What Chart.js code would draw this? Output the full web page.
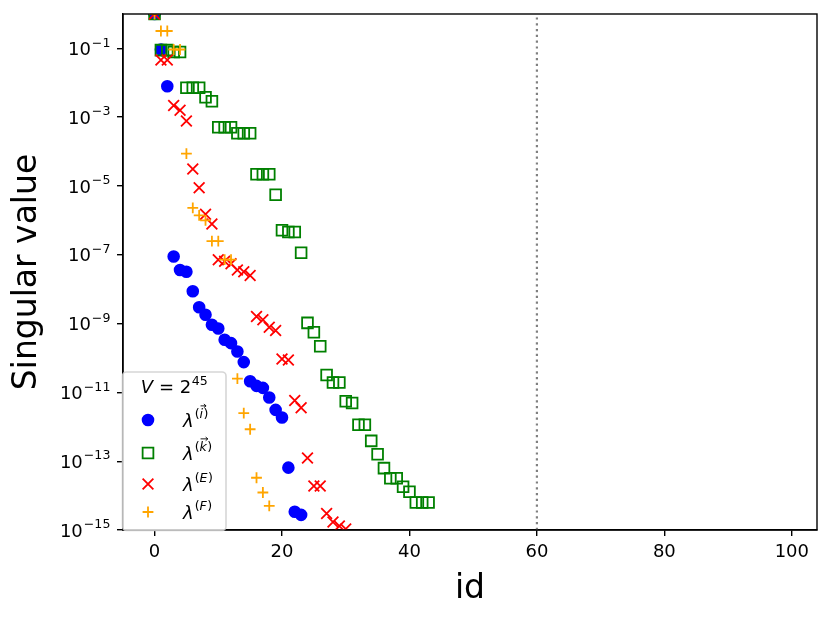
<!DOCTYPE html>
<html>
<head>
<meta charset="utf-8">
<title>Singular values</title>
<script src="https://cdn.jsdelivr.net/npm/chart.js@4.4.1/dist/chart.umd.min.js"></script>
<style>
  html, body { margin: 0; padding: 0; background: #fff; }
</style>
</head>
<body>
<canvas id="chart" width="830" height="618"></canvas>
<script>
// singular values, index in the array = id
const lambdaI = [1, 9.3e-2, 7.9e-3, 8.9e-8, 3.6e-8, 3.2e-8, 8.7e-9, 3.0e-9, 1.8e-9, 9.3e-10,
  7.2e-10, 3.4e-10, 2.7e-10, 1.55e-10, 7.6e-11, 2.1e-11, 1.55e-11, 1.35e-11, 7.1e-12, 3.1e-12,
  1.86e-12, 6.5e-14, 3.4e-15, 2.75e-15];
const lambdaK = [1, 8.9e-2, 8.9e-2, 7.9e-2, 7.9e-2, 7.2e-3, 7.2e-3, 7.2e-3, 3.8e-3, 2.9e-3,
  5.1e-4, 5.1e-4, 5.1e-4, 3.4e-4, 3.4e-4, 3.4e-4, 2.2e-5, 2.2e-5, 2.2e-5, 5.6e-6,
  5.2e-7, 4.6e-7, 4.6e-7, 1.15e-7, 1.05e-9, 5.6e-10, 2.2e-10, 3.2e-11, 1.95e-11, 1.95e-11,
  5.5e-12, 4.9e-12, 1.15e-12, 1.15e-12, 3.9e-13, 1.6e-13, 6.3e-14, 3.2e-14, 3.2e-14, 1.8e-14,
  1.3e-14, 6.3e-15, 6.3e-15, 6.3e-15];
const lambdaE = [1, 4.6e-2, 4.6e-2, 2.2e-3, 1.6e-3, 7.8e-4, 3.1e-5, 8.9e-6, 1.5e-6, 7.9e-7,
  7.2e-8, 6.5e-8, 5.5e-8, 3.6e-8, 3.2e-8, 2.5e-8, 1.6e-9, 1.3e-9, 7.8e-10, 6.3e-10,
  9.3e-11, 8.7e-11, 5.8e-12, 3.6e-12, 1.23e-13, 1.9e-14, 1.9e-14, 3.0e-15, 1.7e-15, 1.3e-15,
  1.07e-15];
const lambdaF = [1, 3.2e-1, 3.2e-1, 9.3e-2, 9.3e-2, 8.7e-5, 2.3e-6, 1.4e-6, 1.0e-6, 2.5e-7,
  2.5e-7, 7.2e-8, 7.2e-8, 2.5e-11, 2.5e-12, 8.5e-13, 3.3e-14, 1.23e-14, 5.0e-15];

const cutoffId = 60;
const xTicks = [0, 20, 40, 60, 80, 100];
const yTickExponents = [-1, -3, -5, -7, -9, -11, -13, -15];
const xRange = [-4.95, 103.95];
const yRange = [1e-15, 1];

const FONT = "'DejaVu Sans', sans-serif";

const toPoints = vals => vals.map((v, i) => ({ x: i, y: v }));

// series look (matplotlib-ish markers)
const seriesStyles = [
  { data: lambdaI, style: 'circle', radius: 5.4, color: '#0000ff', fill: true, sup: 'i', vec: true },
  { data: lambdaK, style: 'rect', radius: 7.6, color: '#008000', fill: false, sup: 'k', vec: true },
  { data: lambdaE, style: 'crossRot', radius: 7.6, color: '#ff0000', fill: false, sup: 'E', vec: false },
  { data: lambdaF, style: 'cross', radius: 5.4, color: '#ffa500', fill: false, sup: 'F', vec: false }
];

// draw a sequence of text runs (base + superscripts) starting at x
function drawRuns(ctx, runs, x, y, align) {
  let total = 0;
  runs.forEach(r => {
    ctx.font = (r.italic ? 'italic ' : '') + r.size + 'px ' + FONT;
    r.w = ctx.measureText(r.text).width;
    total += r.w + (r.gap || 0);
  });
  let cx = align === 'right' ? x - total : align === 'center' ? x - total / 2 : x;
  runs.forEach(r => {
    cx += r.gap || 0;
    ctx.font = (r.italic ? 'italic ' : '') + r.size + 'px ' + FONT;
    ctx.fillText(r.text, cx, y + (r.dy || 0));
    r.x = cx;
    cx += r.w;
  });
  return runs;
}

function drawYTickLabels(chart) {
  const { ctx, chartArea } = chart;
  const yScale = chart.scales.y;
  ctx.save();
  ctx.fillStyle = '#000';
  ctx.textBaseline = 'alphabetic';
  ctx.textAlign = 'left';
  yTickExponents.forEach(e => {
    const py = yScale.getPixelForValue(Math.pow(10, e));
    drawRuns(ctx, [
      { text: '10', size: 18 },
      { text: '\u2212' + Math.abs(e), size: 12.6, dy: -8.3, gap: 1 }
    ], chartArea.left - 12.6, py + 6.5, 'right');
  });
  ctx.restore();
}

function drawLegend(chart) {
  const { ctx } = chart;
  const box = { x: 122.5, y: 372, w: 103.5, h: 158.5, r: 4 };
  ctx.save();
  ctx.beginPath();
  ctx.roundRect(box.x, box.y, box.w, box.h, box.r);
  ctx.fillStyle = 'rgba(255,255,255,0.8)';
  ctx.fill();
  ctx.strokeStyle = 'rgba(204,204,204,0.8)';
  ctx.lineWidth = 1.6;
  ctx.stroke();

  ctx.fillStyle = '#000';
  ctx.textBaseline = 'alphabetic';
  ctx.textAlign = 'left';
  drawRuns(ctx, [
    { text: 'V', size: 18, italic: true },
    { text: ' = ', size: 18 },
    { text: '2', size: 18 },
    { text: '45', size: 12.6, dy: -8.3, gap: 0.5 }
  ], box.x + box.w / 2, 393, 'center');

  const rowY = [420, 453, 484, 512];
  seriesStyles.forEach((s, i) => {
    const y = rowY[i];
    ctx.save();
    ctx.strokeStyle = s.color;
    ctx.fillStyle = s.fill ? s.color : 'rgba(0,0,0,0)';
    ctx.lineWidth = 1.8;
    Chart.helpers.drawPoint(ctx, { pointStyle: s.style, radius: s.radius, borderWidth: 1.8, rotation: 0 }, 148, y);
    ctx.restore();

    ctx.fillStyle = '#000';
    const runs = drawRuns(ctx, [
      { text: '\u03bb', size: 18, italic: true },
      { text: '(', size: 12.6, dy: -8.3, gap: 1 },
      { text: s.sup, size: 12.6, dy: -8.3, italic: true },
      { text: ')', size: 12.6, dy: -8.3, gap: 0.5 }
    ], 183, y + 6.5, 'left');
    if (s.vec) {
      const letter = runs[2];
      const ay = y + 6.5 - 8.3 - 12.6 * 0.78 - 2.5;
      const ax = letter.x + 1;
      const len = Math.max(letter.w, 5.5);
      ctx.strokeStyle = '#000';
      ctx.lineWidth = 0.9;
      ctx.beginPath();
      ctx.moveTo(ax, ay);
      ctx.lineTo(ax + len, ay);
      ctx.moveTo(ax + len - 2.2, ay - 1.8);
      ctx.lineTo(ax + len, ay);
      ctx.lineTo(ax + len - 2.2, ay + 1.8);
      ctx.stroke();
    }
  });
  ctx.restore();
}

const framePlugin = {
  id: 'frame',
  afterDatasetsDraw(chart) {
    const { ctx, chartArea: a } = chart;
    ctx.save();
    ctx.strokeStyle = '#000';
    ctx.lineWidth = 1.4;
    ctx.strokeRect(a.left, a.top, a.right - a.left, a.bottom - a.top);
    ctx.restore();
  },
  afterDraw(chart) {
    drawYTickLabels(chart);
    drawLegend(chart);
  }
};

const datasets = seriesStyles.map((s, i) => ({
  label: 'lambda_' + s.sup,
  data: toPoints(s.data),
  pointStyle: s.style,
  pointRadius: s.radius,
  pointHoverRadius: s.radius,
  pointBorderWidth: 1.8,
  pointBackgroundColor: s.fill ? s.color : 'rgba(0,0,0,0)',
  pointBorderColor: s.color,
  order: 4 - i,
  clip: 0
}));

datasets.push({
  type: 'line',
  label: 'cutoff',
  data: [{ x: cutoffId, y: yRange[0] }, { x: cutoffId, y: yRange[1] }],
  borderColor: '#808080',
  borderWidth: 2.2,
  borderDash: [2.2, 3.6],
  pointRadius: 0,
  order: 5
});

const axisGrid = { drawOnChartArea: false, drawTicks: true, tickLength: 6, color: '#000', lineWidth: 1.4 };

new Chart(document.getElementById('chart').getContext('2d'), {
  type: 'scatter',
  data: { datasets: datasets },
  options: {
    responsive: false,
    animation: false,
    devicePixelRatio: 1,
    layout: { padding: { left: 0, right: 13, top: 14, bottom: 0 } },
    plugins: { legend: { display: false }, tooltip: { enabled: false } },
    scales: {
      x: {
        type: 'linear',
        min: xRange[0],
        max: xRange[1],
        afterBuildTicks: scale => { scale.ticks = xTicks.map(v => ({ value: v })); },
        afterFit: scale => { scale.height = 88; },
        ticks: {
          font: { family: FONT, size: 18 },
          color: '#000',
          padding: 6,
          maxRotation: 0,
          autoSkip: false,
          callback: v => String(v)
        },
        grid: axisGrid,
        border: { display: true, color: '#000', width: 1.4 },
        title: { display: true, text: 'id', color: '#000', font: { family: FONT, size: 33 }, padding: { top: 0, bottom: 9 } }
      },
      y: {
        type: 'logarithmic',
        min: yRange[0],
        max: yRange[1],
        afterBuildTicks: scale => { scale.ticks = yTickExponents.map(e => ({ value: Math.pow(10, e) })); },
        afterFit: scale => { scale.width = 123; },
        ticks: { display: false },
        grid: axisGrid,
        border: { display: true, color: '#000', width: 1.4 },
        title: { display: true, text: 'Singular value', color: '#000', font: { family: FONT, size: 33 }, padding: { top: 8, bottom: 0 } }
      }
    }
  },
  plugins: [framePlugin]
});
</script>
</body>
</html>
